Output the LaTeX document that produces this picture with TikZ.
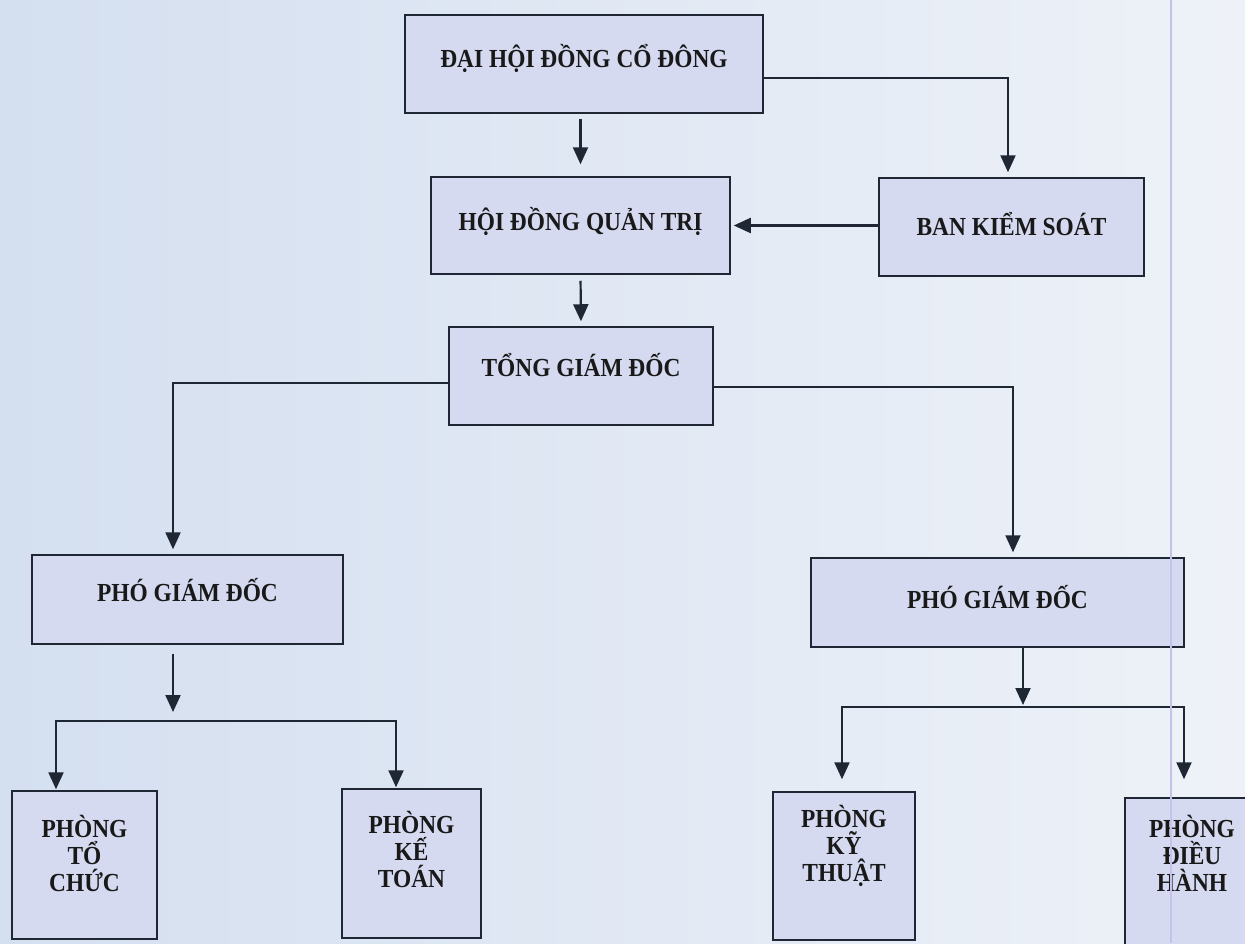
\documentclass[tikz,border=0pt]{standalone}
\usepackage{fontspec}
\setmainfont[FakeStretch=0.9]{Liberation Serif}
\usetikzlibrary{arrows.meta}
\definecolor{bgleft}{HTML}{D4DFF0}
\definecolor{bgright}{HTML}{EEF2F8}
\definecolor{boxfill}{HTML}{D5DAF0}
\definecolor{inkline}{HTML}{1F2634}
\definecolor{scanline}{HTML}{C6C0EC}

\begin{document}
\begin{tikzpicture}[x=1pt,y=-1pt,
  box/.style={draw=inkline,line width=1.5pt,fill=boxfill,inner sep=0pt},
  txt/.style={align=center,inner sep=0pt,text=black!90,font=\fontsize{26}{27}\selectfont\bfseries},
  arr/.style={draw=inkline,line width=2.2pt,-{Triangle[width=15pt,length=17pt]}},
  bus/.style={draw=inkline,line width=2.2pt,{Triangle[width=15pt,length=17pt]}-{Triangle[width=15pt,length=17pt]}}]

\useasboundingbox (0,0) rectangle (1245,943);
\shade[left color=bgleft,right color=bgright] (0,0) rectangle (1245,943);

\node[box,minimum width=358,minimum height=98] (dhcd) at (584,64) {};
\node[box,minimum width=299,minimum height=97] (hdqt) at (580.5,225.5) {};
\node[box,minimum width=265,minimum height=98] (bks) at (1011.5,227) {};
\node[box,minimum width=264,minimum height=98] (tgd) at (581,376) {};
\node[box,minimum width=311,minimum height=89] (pgd1) at (187.5,599.5) {};
\node[box,minimum width=373,minimum height=89] (pgd2) at (997.5,602.5) {};
\node[box,minimum width=145,minimum height=148] (ptc) at (84.5,865) {};
\node[box,minimum width=139,minimum height=149] (pkt) at (411.5,863.5) {};
\node[box,minimum width=142,minimum height=148] (pkyt) at (844,866) {};
\node[box,minimum width=134,minimum height=152] (pdh) at (1192,874) {};

\node[txt] (dhcdt) at ([yshift=6pt]dhcd) {ĐẠI HỘI ĐỒNG CỔ ĐÔNG};
\node[txt] (hdqtt) at ([yshift=4pt]hdqt) {HỘI ĐỒNG QUẢN TRỊ};
\node[txt] (bkst) at ([yshift=3pt]bks) {BAN KIỂM SOÁT};
\node[txt] (tgdt) at ([yshift=11pt]tgd) {TỔNG GIÁM ĐỐC};
\node[txt] (pgd1t) at ([yshift=9pt]pgd1) {PHÓ GIÁM ĐỐC};
\node[txt] (pgd2t) at ([yshift=5pt]pgd2) {PHÓ GIÁM ĐỐC};
\node[txt] (ptct) at ([yshift=12pt]ptc) {PHÒNG\\TỔ\\CHỨC};
\node[txt] (pktt) at ([yshift=14pt]pkt) {PHÒNG\\KẾ\\TOÁN};
\node[txt] (pkytt) at ([yshift=20pt]pkyt) {PHÒNG\\KỸ\\THUẬT};
\node[txt] (pdht) at ([yshift=21pt]pdh) {PHÒNG\\ĐIỀU\\HÀNH};

\coordinate (d1) at (1008,78);
\draw[arr,shorten >=5pt] (d1 -| dhcd.east) -- (d1) -- (d1 |- bks.north);
\draw[arr,shorten <=5pt,shorten >=12pt] (dhcd.south -| hdqt.north) -- (hdqt.north);
\draw[arr,shorten >=3pt] (bks.west |- hdqt.east) -- (hdqt.east);
\draw[arr,shorten <=6pt,shorten >=5pt] (hdqt.south) -- (tgd.north);

\coordinate (t1) at (173,383);
\coordinate (t2) at (1013,387);
\draw[arr,shorten >=5pt] (t1 -| tgd.west) -- (t1) -- (t1 |- pgd1.north);
\draw[arr,shorten >=5pt] (t2 -| tgd.east) -- (t2) -- (t2 |- pgd2.north);

\coordinate (j1) at (173,721);
\coordinate (b1) at (56,721);
\coordinate (b2) at (396,721);
\draw[arr,shorten <=9pt,shorten >=9pt] (j1 |- pgd1.south) -- (j1);
\draw[bus,shorten <=1pt,shorten >=1pt] (b1 |- ptc.north) -- (b1) -- (b2) -- (b2 |- pkt.north);

\coordinate (j2) at (1023,707);
\coordinate (b3) at (842,707);
\coordinate (b4) at (1184,707);
\draw[arr,shorten >=2pt] (j2 |- pgd2.south) -- (j2);
\draw[bus,shorten <=12pt,shorten >=18pt] (b3 |- pkyt.north) -- (b3) -- (b4) -- (b4 |- pdh.north);

\draw[scanline,line width=1.2pt] (1171,0) -- (1171,943);
\end{tikzpicture}
\end{document}
